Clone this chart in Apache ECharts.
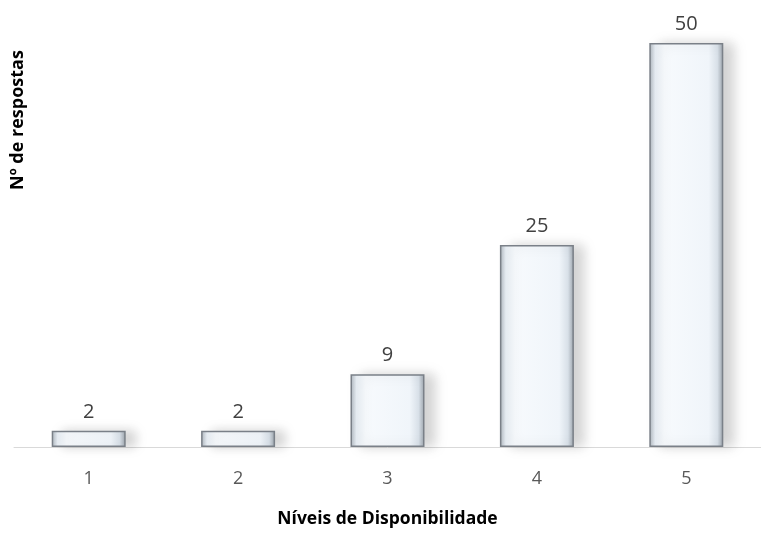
<!DOCTYPE html>
<html><head><meta charset="utf-8">
<script src="https://cdn.jsdelivr.net/npm/echarts@6/dist/echarts.min.js"></script>
<style>html,body{margin:0;padding:0;background:#fff}#c{width:761px;height:533px}</style>
</head><body><div id="c"></div>
<script>
const categories = ['1', '2', '3', '4', '5'];
const values = [2, 2, 9, 25, 50];
const xTitle = 'Níveis de Disponibilidade';
const yTitle = 'Nº de respostas';

const chart = echarts.init(document.getElementById('c'));
const font = '"Open Sans", sans-serif';
chart.setOption({
  animation: false,
  grid: { left: 14, width: 750, top: 43, bottom: 82, containLabel: false },
  xAxis: {
    type: 'category', data: categories,
    axisLine: { lineStyle: { color: '#d9d9d9', width: 1 } },
    axisTick: { show: false },
    axisLabel: { color: '#595959', fontSize: 18, fontFamily: font, margin: 23 },
    name: xTitle, nameLocation: 'middle', nameGap: 63,
    nameTextStyle: { fontWeight: 'bold', fontSize: 17.5, color: '#000', fontFamily: font }
  },
  yAxis: {
    type: 'value', min: 0, max: 50,
    show: false
  },
  graphic: [{
    type: 'text', x: 18, y: 120, rotation: Math.PI / 2,
    style: { text: yTitle, fontWeight: 'bold', fontSize: 18, fill: '#000', fontFamily: font,
      textAlign: 'center', textVerticalAlign: 'middle' }
  }],
  series: [{
    type: 'bar', data: values, barWidth: 74,
    itemStyle: {
      color: new echarts.graphic.LinearGradient(0, 0, 1, 0, [
        { offset: 0, color: '#aab2ba' },
        { offset: 0.08, color: '#e8eef4' },
        { offset: 0.2, color: '#f7fafd' },
        { offset: 0.8, color: '#f0f5fa' },
        { offset: 0.92, color: '#d8e0e8' },
        { offset: 1, color: '#9aa2aa' }
      ]),
      borderColor: '#7a8088', borderWidth: 1.5,
      shadowColor: 'rgba(0,0,0,0.18)', shadowBlur: 12, shadowOffsetX: 10, shadowOffsetY: 0
    },
    label: { show: true, position: 'top', distance: 9, color: '#404040', fontSize: 20, fontFamily: font }
  }]
});
</script></body></html>
